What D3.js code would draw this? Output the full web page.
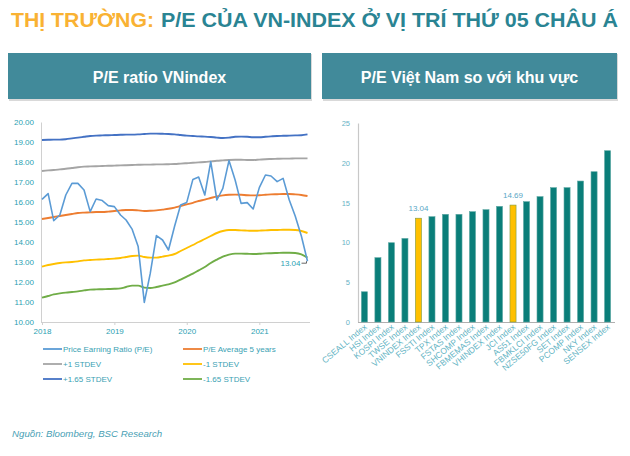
<!DOCTYPE html>
<html><head><meta charset="utf-8">
<script src="https://cdn.jsdelivr.net/npm/d3@7"></script>
<style>
body{margin:0;background:#fff}
svg{display:block}
text{font-family:"Liberation Sans",Arial,sans-serif}
</style>
</head><body>
<svg id="c" width="630" height="456"></svg>
<script>
// ---------- data: left chart (monthly, Jan 2018 - Sep 2021) ----------
const startMonth = "2018-01-01", endMonth = "2021-09-01";
const peRatio = [16.13,16.42,15.07,15.35,16.35,16.93,16.93,16.6,15.52,16.15,
  16.07,15.82,15.77,15.35,15.1,14.63,13.77,10.98,12.43,14.32,
  14.1,13.6,14.8,15.85,15.98,17.13,17.25,16.35,18.02,16.1,
  16.68,18.07,17.1,15.93,15.97,15.65,16.72,17.35,17.3,17.02,
  17.18,16.1,15.3,14.3,13.04];
const peAvg5y = [15.15,15.2,15.25,15.3,15.35,15.4,15.45,15.47,15.48,15.5,
  15.5,15.52,15.55,15.58,15.6,15.6,15.58,15.55,15.56,15.58,
  15.62,15.66,15.72,15.8,15.88,15.96,16.05,16.12,16.2,16.28,
  16.33,16.36,16.37,16.36,16.34,16.33,16.34,16.36,16.38,16.39,
  16.4,16.4,16.38,16.35,16.3];
const plus1Std = [17.55,17.58,17.6,17.63,17.66,17.7,17.74,17.77,17.78,17.79,
  17.8,17.81,17.82,17.83,17.84,17.85,17.86,17.87,17.87,17.88,
  17.88,17.89,17.9,17.92,17.94,17.96,17.98,18.0,18.03,18.06,
  18.08,18.1,18.11,18.11,18.1,18.1,18.12,18.14,18.15,18.16,
  18.17,18.17,18.18,18.18,18.18];
const minus1Std = [12.77,12.85,12.9,12.95,12.98,13.0,13.03,13.08,13.1,13.12,
  13.13,13.15,13.17,13.2,13.25,13.3,13.32,13.25,13.22,13.22,
  13.27,13.32,13.4,13.55,13.7,13.85,14.0,14.15,14.3,14.45,
  14.55,14.6,14.6,14.58,14.57,14.56,14.57,14.58,14.6,14.6,
  14.61,14.61,14.6,14.55,14.45];
const plus165Std = [19.1,19.11,19.12,19.12,19.14,19.18,19.22,19.26,19.3,19.32,
  19.33,19.34,19.35,19.36,19.37,19.37,19.38,19.4,19.42,19.42,
  19.41,19.4,19.38,19.35,19.32,19.3,19.28,19.27,19.25,19.22,
  19.2,19.22,19.26,19.27,19.26,19.24,19.24,19.26,19.28,19.3,
  19.31,19.32,19.33,19.34,19.38];
const minus165Std = [11.22,11.3,11.38,11.43,11.47,11.5,11.53,11.58,11.62,11.63,
  11.64,11.65,11.66,11.68,11.75,11.82,11.82,11.72,11.7,11.75,
  11.82,11.88,11.98,12.12,12.27,12.42,12.58,12.75,12.95,13.12,
  13.27,13.37,13.42,13.42,13.41,13.4,13.41,13.43,13.44,13.45,
  13.46,13.46,13.45,13.38,13.22];
const yTicksLeft = [10,11,12,13,14,15,16,17,18,19,20];
const yearTicks = ["2018","2019","2020","2021"];
const seriesNames = ["Price Earning Ratio (P/E)","P/E Average 5 years","+1 STDEV","-1 STDEV","+1.65 STDEV","-1.65 STDEV"];
const seriesColors = ["#5b9bd5","#ed7d31","#a5a5a5","#ffc000","#4472c4","#70ad47"];

// ---------- data: right chart ----------
const indexNames = ["CSEALL Index","HSI Index","KOSPI Index","TWSE Index","VNINDEX Index","FSSTI Index",
  "TPX Index","FSTAS Index","SHCOMP Index","FBMEMAS Index","VHINDEX Index","JCI Index","AS51 Index",
  "FBMKLCI Index","NZSE50FG Index","SET Index","PCOMP Index","NKY Index","SENSEX Index"];
const indexPE = [3.8,8.08,9.96,10.5,13.04,13.23,13.53,13.53,13.86,14.11,14.53,14.69,15.12,15.75,16.88,16.88,17.71,18.88,21.52];
const highlighted = ["VNINDEX Index","JCI Index"];
const yTicksRight = [0,5,10,15,20,25];

const svg = d3.select("#c");

// ---------- main title ----------
svg.append("text").attr("x",11).attr("y",27).attr("font-size",20).attr("font-weight","bold")
  .attr("fill","#f9b233").attr("textLength",143).attr("lengthAdjust","spacingAndGlyphs")
  .text("THỊ TRƯỜNG:");
svg.append("text").attr("x",161).attr("y",27).attr("font-size",20).attr("font-weight","bold")
  .attr("fill","#2a8493").attr("textLength",457).attr("lengthAdjust","spacingAndGlyphs")
  .text("P/E CỦA VN-INDEX Ở VỊ TRÍ THỨ 05 CHÂU Á");

// ---------- header boxes ----------
const headers = [{x:8,w:303,t:"P/E ratio VNindex"},{x:322,w:295,t:"P/E Việt Nam so với khu vực"}];
headers.forEach(h=>{
  svg.append("rect").attr("x",h.x+1).attr("y",54).attr("width",h.w).attr("height",47).attr("fill","#d9d9d9");
  svg.append("rect").attr("x",h.x).attr("y",53).attr("width",h.w).attr("height",46).attr("fill","#418a9a");
  svg.append("text").attr("x",h.x+h.w/2).attr("y",83).attr("text-anchor","middle")
    .attr("font-size",16).attr("font-weight","bold").attr("fill","#fff").text(h.t);
});

// ---------- left line chart ----------
const months = d3.timeMonth.range(new Date(startMonth), d3.timeMonth.offset(new Date(endMonth),1));
const x = d3.scaleTime().domain([new Date(startMonth), new Date(endMonth)]).range([42, 307.5]);
const y = d3.scaleLinear().domain([10,20]).range([322,122]);
const gL = svg.append("g");

const yAxL = gL.append("g").attr("transform","translate(41,0)")
  .call(d3.axisLeft(y).tickValues(yTicksLeft).tickFormat(d3.format(".2f")).tickSize(0).tickPadding(7));
yAxL.select(".domain").attr("stroke","#d0d0d0");
yAxL.selectAll("text").attr("font-size",8).attr("fill","#2a9fb3").attr("font-family","Liberation Sans, Arial");

const xAxL = gL.append("g").attr("transform","translate(0,322)")
  .call(d3.axisBottom(x).tickValues(yearTicks.map(v=>new Date(v+"-01-01"))).tickFormat(d3.timeFormat("%Y")).tickSize(3).tickPadding(3));
xAxL.select(".domain").attr("stroke","#d0d0d0").attr("d","M41,0.5H310");
xAxL.selectAll("line").attr("stroke","#d0d0d0");
xAxL.selectAll("text").attr("font-size",8).attr("fill","#2a9fb3").attr("font-family","Liberation Sans, Arial");

const allSeries = [peRatio, peAvg5y, plus1Std, minus1Std, plus165Std, minus165Std];
const drawOrder = [4,2,1,3,5,0];
drawOrder.forEach(i=>{
  const line = d3.line().x((d,j)=>x(months[j])).y(d=>y(d))
    .curve(i===0 ? d3.curveLinear : d3.curveMonotoneX);
  gL.append("path").datum(allSeries[i]).attr("fill","none")
    .attr("stroke",seriesColors[i]).attr("stroke-width", i===0?1.6:1.9)
    .attr("stroke-linejoin","round").attr("d",line);
});

// end annotation
const lastX = x(months[months.length-1]), lastY = y(peRatio[peRatio.length-1]);
gL.append("path").attr("fill","none").attr("stroke","#404040").attr("stroke-width",0.8)
  .attr("d",`M${lastX-6},${lastY+2}H${lastX-1}V${lastY}`);
gL.append("text").attr("x",lastX-7).attr("y",lastY+5).attr("text-anchor","end")
  .attr("font-size",8).attr("fill","#2a9fb3").text(d3.format(".2f")(peRatio[peRatio.length-1]));

// legend
const legPos = [[43,349],[183,349],[43,364],[183,364],[43,379],[183,379]];
seriesNames.forEach((n,i)=>{
  const [lx,ly] = legPos[i];
  gL.append("line").attr("x1",lx).attr("x2",lx+19).attr("y1",ly).attr("y2",ly)
    .attr("stroke",seriesColors[i]).attr("stroke-width",1.8);
  gL.append("text").attr("x",lx+20).attr("y",ly+3).attr("font-size",8).attr("fill","#3a9fb3").text(n);
});

// ---------- right bar chart ----------
const xb = d3.scaleBand().domain(indexNames).range([358,614]).paddingInner(0.55).paddingOuter(0.25);
const yb = d3.scaleLinear().domain([0,25]).range([322,123]);
const gR = svg.append("g");

const yAxR = gR.append("g").attr("transform","translate(358,0)")
  .call(d3.axisLeft(yb).tickValues(yTicksRight).tickSize(0).tickPadding(8));
yAxR.select(".domain").attr("stroke","#c8c8c8").attr("stroke-width",1.2);
yAxR.selectAll("text").attr("font-size",7.5).attr("fill","#66b3c6").attr("font-family","Liberation Sans, Arial");

gR.append("line").attr("x1",358).attr("x2",615).attr("y1",322.5).attr("y2",322.5).attr("stroke","#b0b0b0").attr("stroke-width",1);

gR.selectAll("rect.bar").data(indexNames).enter().append("rect").attr("class","bar")
  .attr("x",d=>xb(d)).attr("width",xb.bandwidth())
  .attr("y",(d,i)=>yb(indexPE[i])).attr("height",(d,i)=>yb(0)-yb(indexPE[i]))
  .attr("fill",d=>highlighted.includes(d)?"#ffc000":"#0a7e79")
  .attr("stroke",d=>highlighted.includes(d)?"#7a9a45":"#5fa9a5").attr("stroke-width",0.6);

indexNames.forEach((d,i)=>{
  if(highlighted.includes(d)){
    gR.append("text").attr("x",xb(d)+xb.bandwidth()/2).attr("y",yb(indexPE[i])-7)
      .attr("text-anchor","middle").attr("font-size",8).attr("fill","#5aa7c6").text(d3.format(".2f")(indexPE[i]));
  }
  const cx = xb(d)+xb.bandwidth()/2+3, cy = 328;
  gR.append("text").attr("transform",`translate(${cx},${cy}) rotate(-40)`)
    .attr("text-anchor","end").attr("font-size",8.5).attr("fill","#5fb3c3").text(d);
});

// ---------- source ----------
svg.append("text").attr("x",12).attr("y",437).attr("font-size",9.7).attr("font-style","italic")
  .attr("fill","#4a9fb5").text("Nguồn: Bloomberg, BSC Research");
</script>
</body></html>
